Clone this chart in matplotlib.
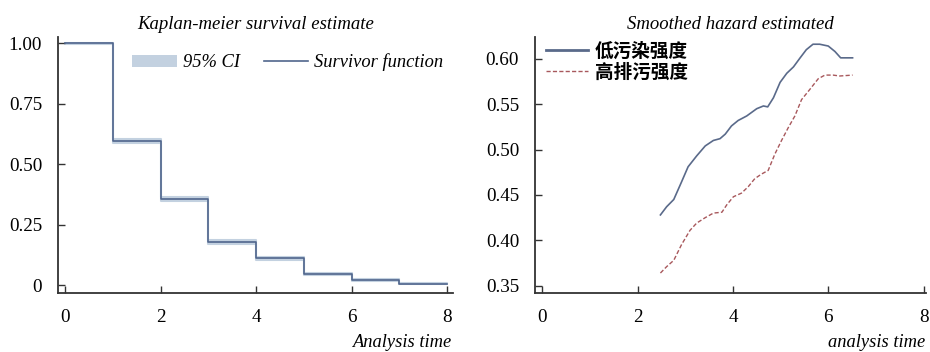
import matplotlib
matplotlib.use("Agg")
import matplotlib.pyplot as plt
from matplotlib.patches import Patch
from matplotlib.lines import Line2D

# ---- data ----
km_time = [0, 1, 2, 3, 4, 5, 6, 7, 8]
km_surv = [1.0, 0.595, 0.355, 0.178, 0.110, 0.045, 0.020, 0.005, 0.005]
km_lower = [0.997, 0.586, 0.346, 0.171, 0.105, 0.041, 0.017, 0.003, 0.003]
km_upper = [1.0, 0.604, 0.364, 0.186, 0.116, 0.049, 0.024, 0.007, 0.007]

low_t = [2.48, 2.61, 2.76, 2.92, 3.06, 3.24, 3.42, 3.59, 3.73, 3.84, 3.97, 4.11, 4.29,
         4.50, 4.64, 4.73, 4.85, 4.99, 5.13, 5.27, 5.41, 5.54, 5.68, 5.82, 6.00, 6.14,
         6.26, 6.51]
low_h = [0.428, 0.437, 0.445, 0.464, 0.481, 0.493, 0.504, 0.510, 0.512, 0.517, 0.526,
         0.532, 0.537, 0.545, 0.548, 0.547, 0.557, 0.574, 0.584, 0.591, 0.601, 0.610,
         0.616, 0.616, 0.614, 0.608, 0.601, 0.601]
high_t = [2.48, 2.61, 2.76, 2.92, 3.10, 3.24, 3.42, 3.59, 3.77, 3.87, 4.01, 4.18, 4.32,
          4.46, 4.60, 4.74, 4.88, 5.02, 5.16, 5.30, 5.44, 5.61, 5.79, 5.93, 6.10, 6.24,
          6.51]
high_h = [0.364, 0.371, 0.378, 0.395, 0.411, 0.419, 0.425, 0.430, 0.431, 0.439, 0.448,
          0.452, 0.459, 0.468, 0.473, 0.477, 0.495, 0.510, 0.524, 0.537, 0.555, 0.566,
          0.578, 0.582, 0.582, 0.581, 0.582]

left_yticks = [0, 0.25, 0.5, 0.75, 1.0]
left_yticklabels = ["0", "0.25", "0.50", "0.75", "1.00"]
right_yticks = [0.35, 0.40, 0.45, 0.50, 0.55, 0.60]
right_yticklabels = ["0.35", "0.40", "0.45", "0.50", "0.55", "0.60"]
xticks = [0, 2, 4, 6, 8]

serif = ["Liberation Serif", "DejaVu Serif"]
cjk = ["Noto Sans CJK SC", "DejaVu Sans"]

fig = plt.figure(figsize=(9.3, 3.52), dpi=100)
ax1 = fig.add_axes([0.0624, 0.1676, 0.4246, 0.7274])
ax2 = fig.add_axes([0.5753, 0.1676, 0.4204, 0.7274])

line_col = "#50668c"
band_col = "#c3d1e0"
spine_col = "#333333"

# KM
ax1.fill_between(km_time, km_lower, km_upper, step="post", facecolor=band_col,
                 edgecolor=band_col, lw=1.5)
ax1.step(km_time, km_surv, where="post", color=line_col, lw=1.2)
ax1.set_xlim(-0.15, 8.12)
ax1.set_ylim(-0.033, 1.025)
ax1.set_yticks(left_yticks)
ax1.set_yticklabels(left_yticklabels)

# hazard
ax2.plot(low_t, low_h, color="#5a6a8a", lw=1.2, label="低污染强度")
ax2.plot(high_t, high_h, color="#a8585c", lw=1.0, ls=(0, (3, 1.6)), label="高排污强度")
ax2.set_xlim(-0.15, 8.05)
ax2.set_ylim(0.342, 0.624)
ax2.set_yticks(right_yticks)
ax2.set_yticklabels(right_yticklabels)

for ax in (ax1, ax2):
    ax.set_xticks(xticks)
    for s in ("top", "right"):
        ax.spines[s].set_visible(False)
    for s in ("left", "bottom"):
        ax.spines[s].set_color(spine_col)
        ax.spines[s].set_linewidth(1.3)
    ax.tick_params(direction="in", length=5, width=1.0, color=spine_col,
                   labelsize=13.8, pad=11.5)
    for lab in ax.get_xticklabels() + ax.get_yticklabels():
        lab.set_fontfamily(serif)

ax1.set_title("Kaplan-meier survival estimate", fontfamily=serif, style="italic",
              fontsize=13.5, pad=6)
ax2.set_title("Smoothed hazard estimated", fontfamily=serif, style="italic",
              fontsize=13.5, pad=6)

fig.text(0.485, 0.026, "Analysis time", ha="right", va="center",
         fontfamily=serif, style="italic", fontsize=13.3)
fig.text(0.995, 0.026, "analysis time", ha="right", va="center",
         fontfamily=serif, style="italic", fontsize=13.3)

handles = [Patch(facecolor=band_col, edgecolor="none"),
           Line2D([0], [0], color=line_col, lw=1.2)]
leg1 = ax1.legend(handles, ["95% CI", "Survivor function"], ncol=2, frameon=False,
                  loc="upper right", bbox_to_anchor=(1.018, 1.0), handlelength=2.4,
                  columnspacing=1.3, handletextpad=0.33,
                  prop={"family": serif, "style": "italic", "size": 13.3})

handles2 = [Line2D([0], [0], color="#5a6a8a", lw=2.0),
            Line2D([0], [0], color="#a8585c", lw=1.0, ls=(0, (3, 1.6)))]
leg2 = ax2.legend(handles2, ["低污染强度", "高排污强度"], frameon=False,
                  loc="upper left", bbox_to_anchor=(-0.015, 1.046),
                  handlelength=2.25, handletextpad=0.38, labelspacing=0.1,
                  prop={"family": cjk, "weight": "bold", "size": 13.4})

fig.savefig("out.png", dpi=100, facecolor="white")
